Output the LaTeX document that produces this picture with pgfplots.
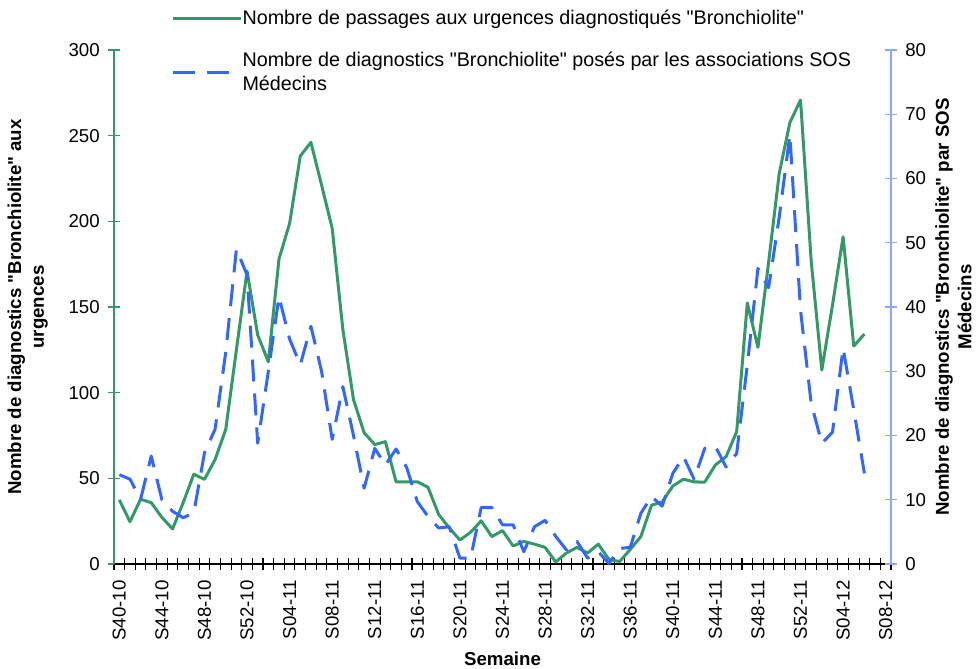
\documentclass[border=0pt]{standalone}
\usepackage{fontspec}
\setmainfont{Liberation Sans}[Ligatures=TeXOff]
\usepackage{pgfplots}
\pgfplotsset{compat=1.18}
\definecolor{cgreen}{RGB}{51,153,102}
\definecolor{cblue}{RGB}{51,102,255}
\definecolor{caxblue}{RGB}{140,165,255}
\newcommand{\dq}{"}
\begin{document}
\fontsize{14}{17}\selectfont
\begin{tikzpicture}
\pgfplotsset{
  every axis/.append style={
    scale only axis, width=582.75pt, height=385.5pt,
    xmin=-0.5, xmax=72.5, ymin=0,
    /pgf/number format/assume math mode=true,
    tick align=center,
    major tick length=9pt, minor tick length=9pt,
    clip=false,
  }
}
\begin{axis}[
  ymax=300,
  axis x line*=bottom, axis y line*=left,
  xtick={0,4,...,72},
  xticklabels={S40-10,S44-10,S48-10,S52-10,S04-11,S08-11,S12-11,S16-11,S20-11,S24-11,S28-11,S32-11,S36-11,S40-11,S44-11,S48-11,S52-11,S04-12,S08-12},
  major x tick style={draw=none},
  minor xtick={-0.5,0.5,...,72.5},
  minor x tick style={black, line width=0.8pt},
  x axis line style={black, line width=1pt, -},
  y axis line style={cgreen, line width=1pt, -},
  ytick={0,50,...,300},
  major y tick style={cgreen, line width=0.8pt},
  xticklabel style={yshift=-7.5pt, rotate=90, anchor=east, inner sep=0pt},
  yticklabel style={inner sep=0pt, xshift=-6pt},
  ylabel={\textbf{Nombre de diagnostics \dq Bronchiolite\dq\ aux}\\\textbf{urgences}},
  ylabel style={align=center, at={(axis description cs:-0.0849,0.5)}, anchor=south, inner sep=0pt},
  xlabel={\textbf{Semaine}},
  xlabel style={at={(axis description cs:0.5,-0.1712)}, anchor=north, inner sep=0pt},
]
\addplot[cgreen, line width=2.25pt, line join=round] coordinates {
(0,37.4)(1,24.7)(2,37.8)(3,35.8)(4,27.2)(5,20.5)(6,35.8)(7,52.4)(8,49.4)(9,61)
(10,78.6)(11,125)(12,171)(13,133.7)(14,118)(15,178)(16,198.8)(17,238.1)(18,246.1)(19,221.2)
(20,195.9)(21,137)(22,96)(23,76.6)(24,69.7)(25,71.4)(26,48)(27,48)(28,48)(29,44.8)
(30,29)(31,21)(32,14)(33,18.5)(34,25.2)(35,16)(36,19.5)(37,10.5)(38,13.2)(39,11.6)
(40,9.7)(41,1.2)(42,6.4)(43,9.7)(44,6.4)(45,11.6)(46,2.7)(47,1.4)(48,8.5)(49,16)
(50,34.3)(51,36.2)(52,45.5)(53,49.5)(54,47.9)(55,47.8)(56,57.8)(57,62.6)(58,77.2)(59,152.4)
(60,126.5)(61,176)(62,228)(63,257.6)(64,270.8)(65,177)(66,113.2)(67,151)(68,191)(69,127.2)
(70,134.2)};
\end{axis}
\begin{axis}[
  ymax=80,
  axis y line*=right, axis x line=none,
  ytick={0,10,...,80},
  y axis line style={caxblue, line width=1pt, -},
  major y tick style={caxblue, line width=0.8pt},
  yticklabel style={inner sep=0pt, xshift=6pt},
  ylabel={\textbf{Nombre de diagnostics \dq Bronchiolite\dq\ par SOS}\\\textbf{Médecins}},
  ylabel style={align=center, at={(axis description cs:1.0566,0.5)}, anchor=north, inner sep=0pt, rotate=0},
  legend style={draw=none, fill=none, inner sep=0pt, at={(axis description cs:0.0737,1.0777)}, anchor=north west,
    font=\fontsize{14.8}{18}\selectfont,
    row sep=18pt, nodes={align=left, inner sep=0pt}, /tikz/every even column/.append style={column sep=4pt}},
  legend cell align=left,
  legend image code/.code={\draw[#1] (0pt,0pt) -- (51pt,0pt);},
]
\addlegendimage{cgreen, line width=2.25pt}
\addlegendentry{Nombre de passages aux urgences diagnostiqués \dq Bronchiolite\dq}
\addplot[cblue, line width=2.25pt, line join=round, dash pattern=on 16.5pt off 9pt] coordinates {
(0,13.9)(1,13.2)(2,10.1)(3,16.8)(4,10)(5,8.2)(6,7.2)(7,8)(8,17.3)(9,21)
(10,33)(11,49)(12,45)(13,18.8)(14,30)(15,41.6)(16,35)(17,31)(18,37)(19,30)
(20,19.4)(21,27.6)(22,20)(23,11.8)(24,18)(25,15.4)(26,17.9)(27,15)(28,9.7)(29,7.4)
(30,5.6)(31,5.8)(32,0.9)(33,0.9)(34,8.8)(35,8.8)(36,6.1)(37,6.1)(38,1.9)(39,5.8)
(40,6.8)(41,4.3)(42,2.2)(43,3.5)(44,0.9)(45,1.9)(46,0.1)(47,2.4)(48,2.6)(49,7.9)
(50,10.5)(51,9)(52,14.1)(53,16.7)(54,13.2)(55,18)(56,18.3)(57,15.1)(58,17.2)(59,31)
(60,46)(61,43)(62,54)(63,66.8)(64,39.5)(65,25)(66,18.8)(67,20.5)(68,33.6)(69,24)
(70,14.1)};
\addlegendentry{Nombre de diagnostics \dq Bronchiolite\dq\ posés par les associations SOS\\Médecins}
\end{axis}
\pgfresetboundingbox
\path ([shift={(-85.5pt,-78.75pt)}]current axis.south west) rectangle ([shift={(64.5pt,37.5pt)}]current axis.north east);
\end{tikzpicture}
\end{document}
